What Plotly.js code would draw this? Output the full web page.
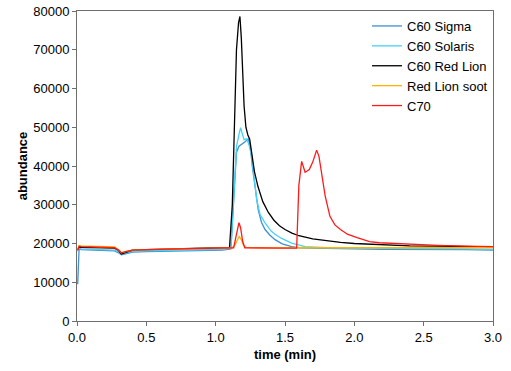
<!DOCTYPE html>
<html>
<head>
<meta charset="utf-8">
<script src="https://cdn.plot.ly/plotly-3.0.1.min.js"></script>
<style>html,body{margin:0;padding:0;background:#fff;}#chart{width:511px;height:371px;}</style>
</head>
<body>
<div id="chart"></div>
<script>
// C60 Sigma
const sigmaT = [0.005, 0.015, 0.03, 0.1, 0.2, 0.27, 0.3, 0.32, 0.35, 0.4, 0.5, 0.7, 0.9, 1.05, 1.11, 1.13, 1.15, 1.168, 1.19, 1.21, 1.235, 1.25, 1.264, 1.285, 1.307, 1.33, 1.356, 1.39, 1.428, 1.48, 1.548, 1.6, 1.8, 2.0, 2.2, 2.5, 2.8, 3.0];
const sigmaY = [9500, 18600, 18400, 18300, 18200, 18100, 17600, 17100, 17300, 17800, 17900, 18000, 18100, 18300, 18600, 30000, 43500, 45100, 45600, 46200, 47000, 45000, 40000, 34000, 28700, 25500, 23600, 22200, 21000, 19900, 19200, 18900, 18700, 18600, 18500, 18500, 18400, 18300];
// C60 Solaris
const solarisT = [0.005, 0.015, 0.03, 0.1, 0.2, 0.27, 0.3, 0.32, 0.35, 0.4, 0.5, 0.7, 0.9, 1.05, 1.11, 1.13, 1.15, 1.17, 1.18, 1.19, 1.205, 1.224, 1.24, 1.26, 1.278, 1.296, 1.32, 1.356, 1.4, 1.428, 1.476, 1.548, 1.644, 1.8, 2.0, 2.2, 2.5, 2.8, 3.0];
const solarisY = [18000, 18800, 18600, 18500, 18400, 18300, 17800, 17300, 17500, 18000, 18100, 18200, 18300, 18500, 18800, 31000, 45000, 48500, 49900, 48500, 46800, 47000, 45500, 42500, 37000, 31300, 27500, 25300, 23200, 22400, 21300, 20100, 19200, 18900, 18800, 18700, 18700, 18600, 18500];
// C60 Red Lion
const redLionT = [0.005, 0.015, 0.03, 0.1, 0.2, 0.27, 0.3, 0.32, 0.35, 0.4, 0.5, 0.7, 0.9, 1.05, 1.1, 1.12, 1.14, 1.15, 1.165, 1.175, 1.185, 1.195, 1.205, 1.218, 1.232, 1.245, 1.26, 1.28, 1.305, 1.34, 1.38, 1.42, 1.46, 1.5, 1.55, 1.6, 1.7, 1.8, 1.9, 2.0, 2.18, 2.4, 2.6, 2.8, 3.0];
const redLionY = [18500, 19100, 19000, 19000, 18900, 18800, 18200, 17300, 17700, 18300, 18400, 18600, 18800, 18900, 19000, 30000, 60000, 70000, 77000, 78600, 73000, 63000, 55500, 50000, 48000, 47000, 43000, 38500, 34700, 30800, 28000, 26000, 24600, 23600, 22700, 22000, 21200, 20700, 20300, 20000, 19700, 19400, 19300, 19200, 19100];
// Red Lion soot
const sootT = [0.005, 0.015, 0.03, 0.1, 0.2, 0.27, 0.3, 0.32, 0.35, 0.4, 0.5, 0.7, 0.9, 1.05, 1.12, 1.14, 1.155, 1.17, 1.185, 1.2, 1.22, 1.3, 1.5, 1.8, 2.0, 2.3, 2.6, 3.0];
const sootY = [18500, 19500, 19400, 19300, 19200, 19100, 18400, 17600, 17900, 18300, 18400, 18500, 18700, 18800, 18900, 19700, 21000, 21800, 21000, 19600, 19000, 18900, 18900, 18900, 19000, 19000, 18900, 18900];
// C70
const c70T = [0.005, 0.015, 0.03, 0.1, 0.2, 0.27, 0.3, 0.32, 0.35, 0.4, 0.5, 0.7, 0.9, 1.05, 1.13, 1.145, 1.158, 1.168, 1.18, 1.195, 1.21, 1.3, 1.45, 1.584, 1.6, 1.62, 1.632, 1.645, 1.66, 1.675, 1.7, 1.715, 1.728, 1.745, 1.765, 1.79, 1.824, 1.86, 1.9, 1.95, 2.02, 2.11, 2.18, 2.33, 2.6, 2.8, 3.0];
const c70Y = [18200, 19300, 19200, 19100, 19000, 18900, 18300, 17600, 17900, 18300, 18400, 18600, 18700, 18800, 18900, 21500, 24300, 25400, 24000, 20500, 18900, 18800, 18800, 18800, 35000, 41200, 39500, 38400, 38700, 39100, 41000, 43000, 44100, 42500, 38300, 32200, 27000, 24800, 23600, 22400, 21500, 20500, 20200, 19900, 19500, 19300, 19200];

const xTicks = [0, 0.5, 1, 1.5, 2, 2.5, 3];
const xTickText = ['0.0', '0.5', '1.0', '1.5', '2.0', '2.5', '3.0'];
const yTicks = [0, 10000, 20000, 30000, 40000, 50000, 60000, 70000, 80000];
const yTickText = ['0', '10000', '20000', '30000', '40000', '50000', '60000', '70000', '80000'];

const series = [
  {name: 'C60 Sigma', x: sigmaT, y: sigmaY, color: '#3F8FD2'},
  {name: 'C60 Solaris', x: solarisT, y: solarisY, color: '#45D3F5'},
  {name: 'C60 Red Lion', x: redLionT, y: redLionY, color: '#000000'},
  {name: 'Red Lion soot', x: sootT, y: sootY, color: '#FFB300'},
  {name: 'C70', x: c70T, y: c70Y, color: '#FF1A1A'}
];

const traces = series.map(s => ({
  type: 'scatter', mode: 'lines', name: s.name, x: s.x, y: s.y,
  line: {color: s.color, width: 1.3}
}));

const fam = 'Liberation Sans, Arial, sans-serif';
const axisFont = {family: fam, size: 13, color: '#000'};

const layout = {
  width: 511, height: 371,
  margin: {l: 77, r: 18, t: 11, b: 50},
  paper_bgcolor: '#fff', plot_bgcolor: '#fff',
  font: axisFont,
  showlegend: true,
  legend: {
    x: 1, y: 1, xanchor: 'right', yanchor: 'top',
    bgcolor: 'rgba(0,0,0,0)', borderwidth: 0,
    font: {family: fam, size: 13, color: '#000'},
    tracegroupgap: 0
  },
  xaxis: {
    range: [0, 3], tickvals: xTicks, ticktext: xTickText,
    showgrid: false, zeroline: false,
    showline: true, linecolor: '#6e6e6e', linewidth: 1, mirror: true,
    ticks: 'outside', ticklen: 4, tickcolor: '#6e6e6e',
    tickfont: axisFont, automargin: false,
    title: {text: '<b>time (min)</b>', font: {family: fam, size: 13, color: '#000'}, standoff: 6}
  },
  yaxis: {
    range: [0, 80000], tickvals: yTicks, ticktext: yTickText,
    showgrid: false, zeroline: false,
    showline: true, linecolor: '#6e6e6e', linewidth: 1, mirror: true,
    ticks: 'outside', ticklen: 4, tickcolor: '#6e6e6e',
    tickfont: axisFont, automargin: false,
    title: {text: '<b>abundance</b>', font: {family: fam, size: 13, color: '#000'}, standoff: 2}
  }
};

Plotly.newPlot('chart', traces, layout, {displayModeBar: false, staticPlot: true});
</script>
</body>
</html>
